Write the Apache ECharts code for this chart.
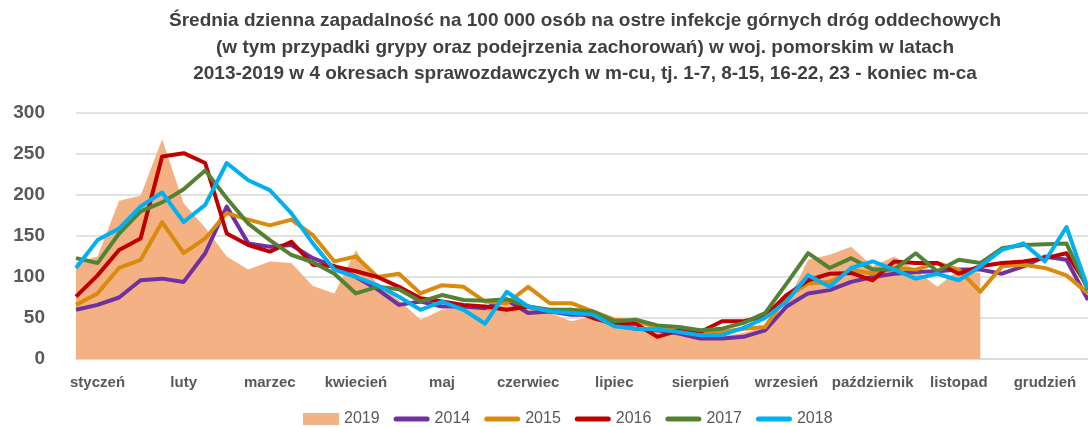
<!DOCTYPE html>
<html>
<head>
<meta charset="utf-8">
<script src="https://cdn.jsdelivr.net/npm/echarts@6/dist/echarts.min.js"></script>
<style>
html,body{margin:0;padding:0;background:#fff;}
#c{width:1088px;height:427px;}
</style>
</head>
<body>
<div id="c"></div>
<script>
const months = ['styczeń','luty','marzec','kwiecień','maj','czerwiec','lipiec','sierpień','wrzesień','październik','listopad','grudzień'];
const periods = ['1-7','8-15','16-22','23-koniec'];
const yTicks = [0, 50, 100, 150, 200, 250, 300];

const s2019 = [118,125,193,199,268,190,160,125,109,119,117,89,80,133,90,72,48,60,64,60,68,64,56,46,52,43,37,35,33,25,27,32,39,68,121,127,137,113,125,108,88,109,105,null,null,null,null,null];
const s2014 = [60,66,75,96,98,94,129,186,141,137,139,123,113,100,85,66,70,64,64,62,72,56,58,54,54,41,37,35,31,25,25,27,35,64,80,84,94,100,104,106,107,109,109,104,113,125,121,72];
const s2015 = [66,80,111,121,167,129,147,178,170,163,170,151,119,125,100,104,80,90,88,70,68,88,68,68,58,48,46,39,37,33,33,37,39,76,92,94,109,104,111,109,117,109,82,113,115,111,102,80];
const s2016 = [76,102,133,147,247,251,239,153,139,131,143,115,113,107,100,88,74,70,66,64,60,64,58,60,50,43,43,27,35,33,46,46,52,78,96,104,105,96,119,117,117,104,113,117,119,123,129,88];
const s2017 = [123,117,153,180,191,207,230,196,165,145,127,118,104,80,88,85,70,78,72,71,73,64,60,60,58,46,48,41,39,35,37,44,56,92,129,111,123,109,109,129,107,121,117,135,139,140,141,84];
const s2018 = [111,145,159,186,203,167,188,239,218,206,178,141,109,100,90,76,60,70,60,43,82,64,58,56,54,40,37,36,33,29,29,38,50,70,102,88,111,119,109,98,104,96,113,133,141,119,161,86];

const categories = [];
months.forEach(m => periods.forEach(p => categories.push(m + ' ' + p)));

const chart = echarts.init(document.getElementById('c'), null, {renderer: 'canvas'});
const gray = '#595959';
const fontFam = '"Liberation Sans", Arial, sans-serif';
const lineIcon = 'path://M2.5,0 L33.5,0 A2.5,2.5 0 0 1 33.5,5 L2.5,5 A2.5,2.5 0 0 1 2.5,0 Z';

function lineSeries(name, data, color) {
  return {
    name: name, type: 'line', data: data, symbol: 'none', showSymbol: false,
    lineStyle: {color: color, width: 4, join: 'round'},
    itemStyle: {color: color},
    emphasis: {disabled: true},
    animation: false
  };
}

chart.setOption({
  animation: false,
  title: {
    text: 'Średnia dzienna zapadalność na 100 000 osób na ostre infekcje górnych dróg oddechowych\n(w tym przypadki grypy oraz podejrzenia zachorowań) w woj. pomorskim w latach\n2013-2019 w 4 okresach sprawozdawczych w m-cu, tj. 1-7, 8-15, 16-22, 23 - koniec m-ca',
    left: 580, top: 3, textAlign: 'center',
    textStyle: {fontFamily: fontFam, fontSize: 19, fontWeight: 'bold', color: '#404040', lineHeight: 26.5}
  },
  legend: {
    top: 406, left: 298, itemWidth: 36, itemHeight: 12, itemGap: 14,
    textStyle: {fontFamily: fontFam, fontSize: 16, color: gray},
    data: [
      {name: '2019', icon: 'rect'},
      {name: '2014', icon: lineIcon}, {name: '2015', icon: lineIcon}, {name: '2016', icon: lineIcon},
      {name: '2017', icon: lineIcon}, {name: '2018', icon: lineIcon}
    ]
  },
  grid: {left: 76, right: -3, top: 113, bottom: 68, containLabel: false},
  xAxis: {
    type: 'category', data: categories, boundaryGap: false,
    axisLine: {show: true, lineStyle: {color: '#d9d9d9', width: 1.5}},
    axisTick: {show: false},
    splitLine: {show: false},
    axisLabel: {
      interval: (i) => i % 4 === 1,
      formatter: (v) => v.split(' ')[0],
      margin: 16, fontFamily: fontFam, fontSize: 15, fontWeight: 'bold', color: gray
    }
  },
  yAxis: {
    type: 'value', min: yTicks[0], max: yTicks[yTicks.length - 1], interval: 50,
    axisLine: {show: false}, axisTick: {show: false},
    splitLine: {lineStyle: {color: '#d9d9d9', width: 1.5}},
    axisLabel: {margin: 31, fontFamily: fontFam, fontSize: 19, fontWeight: 'bold', color: gray}
  },
  series: [
    {
      name: '2019', type: 'line', data: s2019, symbol: 'none', showSymbol: false,
      lineStyle: {width: 0, color: '#F4B183'},
      itemStyle: {color: '#F4B183'},
      areaStyle: {color: '#F4B183', opacity: 1},
      connectNulls: false, emphasis: {disabled: true}
    },
    lineSeries('2014', s2014, '#7030A0'),
    lineSeries('2015', s2015, '#DA8A0C'),
    lineSeries('2016', s2016, '#C00000'),
    lineSeries('2017', s2017, '#548235'),
    lineSeries('2018', s2018, '#00B0F0')
  ]
});
</script>
</body>
</html>
